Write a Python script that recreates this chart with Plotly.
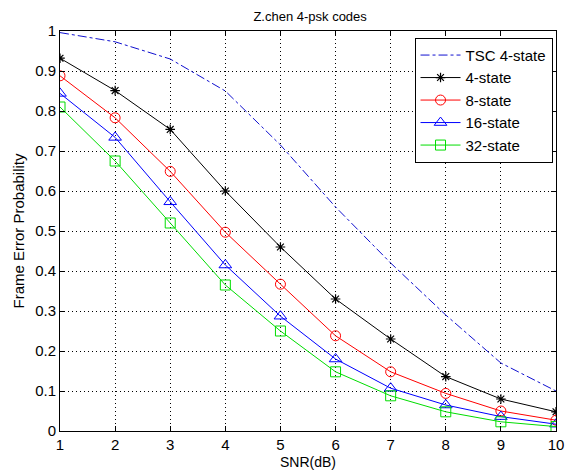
import plotly.graph_objects as go

snr = [1, 2, 3, 4, 5, 6, 7, 8, 9, 10]
tsc_4state = [0.996, 0.973, 0.93, 0.85, 0.715, 0.56, 0.42, 0.29, 0.17, 0.10]
state4 = [0.932, 0.851, 0.754, 0.60, 0.46, 0.33, 0.23, 0.136, 0.08, 0.048]
state8 = [0.888, 0.783, 0.649, 0.497, 0.367, 0.238, 0.148, 0.094, 0.05, 0.027]
state16 = [0.844, 0.734, 0.573, 0.415, 0.287, 0.18, 0.107, 0.065, 0.036, 0.017]
state32 = [0.81, 0.675, 0.52, 0.365, 0.25, 0.148, 0.088, 0.048, 0.023, 0.011]

FONT = "Liberation Sans, Arial, sans-serif"

fig = go.Figure()
fig.add_trace(go.Scatter(x=snr, y=tsc_4state, mode="lines", name="TSC 4-state",
                         line=dict(color="#1010d0", width=1, dash="dashdot")))
fig.add_trace(go.Scatter(x=snr, y=state4, mode="lines+markers", name="4-state",
                         line=dict(color="black", width=1),
                         marker=dict(symbol="asterisk-open", size=8, color="black",
                                     line=dict(color="black", width=1.2))))
fig.add_trace(go.Scatter(x=snr, y=state8, mode="lines+markers", name="8-state",
                         line=dict(color="#ff0000", width=1),
                         marker=dict(symbol="circle-open", size=10, color="#ff0000",
                                     line=dict(color="#ff0000", width=1))))
fig.add_trace(go.Scatter(x=snr, y=state16, mode="lines+markers", name="16-state",
                         line=dict(color="#0000ff", width=1),
                         marker=dict(symbol="triangle-up-open", size=11, color="#0000ff",
                                     line=dict(color="#0000ff", width=1))))
fig.add_trace(go.Scatter(x=snr, y=state32, mode="lines+markers", name="32-state",
                         line=dict(color="#00dd00", width=1),
                         marker=dict(symbol="square-open", size=10, color="#00dd00",
                                     line=dict(color="#00dd00", width=1))))

axis_common = dict(
    showline=True, linecolor="black", linewidth=1, mirror="allticks",
    ticks="inside", ticklen=5, tickcolor="black",
    showgrid=True, gridcolor="black", griddash="1px,3px", gridwidth=1,
    zeroline=False, ticklabeloverflow="allow",
    tickfont=dict(family=FONT, size=15, color="black"),
)

fig.update_layout(
    width=569, height=475,
    margin=dict(l=60, r=5, t=31, b=44),
    paper_bgcolor="white", plot_bgcolor="white",
    font=dict(family=FONT, color="black"),
    title=dict(text="Z.chen 4-psk codes", x=0.545, xanchor="center", y=0.975, yanchor="top",
               font=dict(family=FONT, size=13, color="black")),
    xaxis=dict(range=[1, 10], dtick=1, tick0=1,
               title=dict(text="SNR(dB)", font=dict(family=FONT, size=14), standoff=5),
               **axis_common),
    yaxis=dict(range=[0, 1], dtick=0.1, tick0=0,
               title=dict(text="Frame Error Probability", font=dict(family=FONT, size=15), standoff=6),
               **axis_common),
    legend=dict(x=0.993, xanchor="right", y=0.983, yanchor="top",
                bgcolor="white", bordercolor="black", borderwidth=1,
                font=dict(family=FONT, size=15, color="black"),
                tracegroupgap=0, itemwidth=40),
    showlegend=True,
)

fig.write_html("out.html", config={"displayModeBar": False},
               post_script="document.body.style.margin='0px';document.body.style.overflow='hidden';")
